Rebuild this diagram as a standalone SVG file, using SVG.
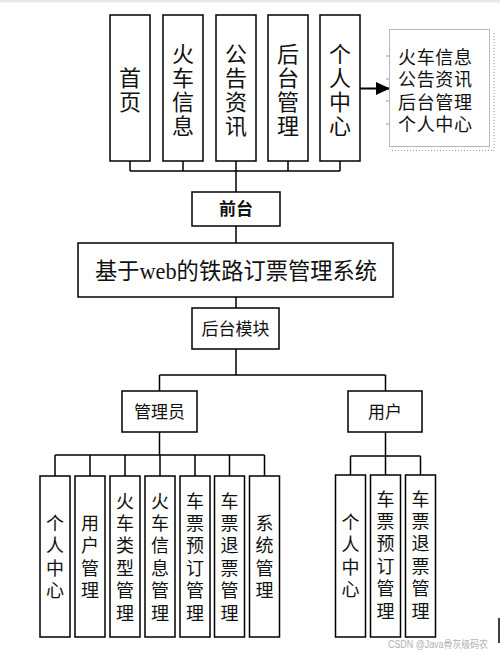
<svg xmlns="http://www.w3.org/2000/svg" width="500" height="654" viewBox="0 0 500 654">
<style>
.box{fill:#fff;stroke:#000;stroke-width:1.5}
.ln{fill:none;stroke:#000;stroke-width:1.5}
.cn{font-family:"Noto Sans CJK SC","Noto Sans CJK TC",sans-serif;fill:#111}
.li{font-family:"Liberation Sans","Noto Sans CJK SC",sans-serif;fill:#111;font-size:18px}
.v22{font-size:22px;text-anchor:middle;writing-mode:vertical-rl;letter-spacing:2px}
.v18{font-size:18px;text-anchor:middle;writing-mode:vertical-rl;letter-spacing:4.4px}
.lb{font-size:17px;text-anchor:middle}
</style>
<defs>
<marker id="arr" markerWidth="14" markerHeight="14" refX="14" refY="7" orient="auto" markerUnits="userSpaceOnUse">
<polygon points="0,0.5 14,7 0,13.5" fill="#000"/>
</marker>
</defs>
<rect x="0" y="0" width="500" height="2.5" fill="#e9e9e9"/>
<g id="connectors">
<path class="ln" d="M130 161V171M183 161V171M288 161V171M340 161V171M130 171H340M236 161V192"/>
<path class="ln" d="M236 226V243M236 297V308M236 349V375M159.5 375H385.5M159.5 375V391M385.5 375V391"/>
<path class="ln" d="M159.5 432V455M55 455H264.5M55 455V476M90 455V476M125 455V476M160 455V476M195 455V476M229.5 455V476M264.5 455V476"/>
<path class="ln" d="M385.5 432V456M350.5 456H420.5M350.5 456V475M385.5 456V475M420.5 456V475"/>
<line x1="360" y1="88.5" x2="390" y2="88.5" stroke="#000" stroke-width="2" marker-end="url(#arr)"/>
</g>
<g id="n-shouye"><rect class="box" x="110" y="15" width="40" height="146"/>
<text class="cn v22" x="130" y="90.5">首页</text></g>
<g id="n-huoche"><rect class="box" x="163" y="15" width="40" height="146"/>
<text class="cn v22" x="183" y="90.5">火车信息</text></g>
<g id="n-gonggao"><rect class="box" x="216" y="15" width="40" height="146"/>
<text class="cn v22" x="236" y="90.5">公告资讯</text></g>
<g id="n-houtai"><rect class="box" x="268" y="15" width="40" height="146"/>
<text class="cn v22" x="288" y="90.5">后台管理</text></g>
<g id="n-geren"><rect class="box" x="320" y="15" width="40" height="146"/>
<text class="cn v22" x="340" y="90.5">个人中心</text></g>
<g id="n-list">
<rect x="389.5" y="29.5" width="100" height="117" fill="#fff" stroke="#b8b8b8" stroke-width="1"/>
<path d="M494 33V151M392 150.5H494" stroke="#8a9aaa" stroke-width="1" stroke-dasharray="1,2" fill="none"/>
<path d="M386 56H389M386 79H389M386 101H389M386 124H389" stroke="#999" stroke-width="1"/>
<text class="li" x="398" y="63.5" textLength="74">火车信息</text>
<text class="li" x="398" y="86" textLength="74">公告资讯</text>
<text class="li" x="398" y="108.5" textLength="74">后台管理</text>
<text class="li" x="398" y="131" textLength="74">个人中心</text>
</g>
<g id="n-qiantai"><rect class="box" x="192" y="192" width="88" height="34"/>
<text class="cn lb" x="236" y="215" font-weight="bold">前台</text></g>
<g id="n-title"><rect class="box" x="78" y="243" width="315" height="54"/>
<text x="95" y="279" font-size="23" textLength="282" lengthAdjust="spacingAndGlyphs" style="font-family:'Liberation Serif','Noto Sans CJK SC',serif;fill:#111">基于web的铁路订票管理系统</text></g>
<g id="n-houtaimokuai"><rect class="box" x="192" y="308" width="87" height="41"/>
<text class="cn lb" x="235.5" y="335">后台模块</text></g>
<g id="n-admin"><rect class="box" x="122" y="391" width="75" height="41"/>
<text class="cn lb" x="159.5" y="417.5">管理员</text></g>
<g id="n-user"><rect class="box" x="348" y="391" width="74" height="41"/>
<text class="cn lb" x="385" y="417.5">用户</text></g>
<g id="a-geren"><rect class="box" x="40" y="476" width="30" height="161"/>
<text class="cn v18" x="55" y="559">个人中心</text></g>
<g id="a-yonghu"><rect class="box" x="75" y="476" width="30" height="161"/>
<text class="cn v18" x="90" y="559">用户管理</text></g>
<g id="a-leixing"><rect class="box" x="110" y="476" width="30" height="161"/>
<text class="cn v18" x="125" y="559">火车类型管理</text></g>
<g id="a-xinxi"><rect class="box" x="145" y="476" width="30" height="161"/>
<text class="cn v18" x="160" y="559">火车信息管理</text></g>
<g id="a-yuding"><rect class="box" x="180" y="476" width="30" height="161"/>
<text class="cn v18" x="195" y="559">车票预订管理</text></g>
<g id="a-tuipiao"><rect class="box" x="214.5" y="476" width="30" height="161"/>
<text class="cn v18" x="229.5" y="559">车票退票管理</text></g>
<g id="a-xitong"><rect class="box" x="249.5" y="476" width="30" height="161"/>
<text class="cn v18" x="264.5" y="559">系统管理</text></g>
<g id="u-geren"><rect class="box" x="335.5" y="475" width="30" height="162"/>
<text class="cn v18" x="350.5" y="558">个人中心</text></g>
<g id="u-yuding"><rect class="box" x="370.5" y="475" width="30" height="162"/>
<text class="cn v18" x="385.5" y="557">车票预订管理</text></g>
<g id="u-tuipiao"><rect class="box" x="405.5" y="475" width="30" height="162"/>
<text class="cn v18" x="420.5" y="557">车票退票管理</text></g>
<line x1="499" y1="618" x2="499" y2="643" stroke="#000" stroke-width="1.5"/>
<text x="388" y="648" font-size="10" textLength="100" lengthAdjust="spacingAndGlyphs" fill="#b0b0b0" style="font-family:'Liberation Sans','Noto Sans CJK SC',sans-serif">CSDN @Java骨灰级码农</text>
</svg>
